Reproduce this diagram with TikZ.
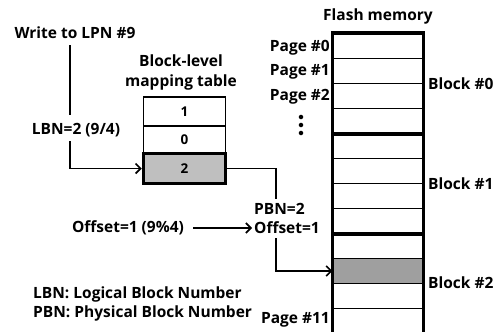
\documentclass[tikz,border=0pt]{standalone}
\usepackage{fontspec}
\setmainfont{Open Sans}
\usetikzlibrary{arrows.meta}
\begin{document}
\begin{tikzpicture}[x=1pt,y=-1pt,
  txt/.style={font=\fontsize{15.5}{20}\selectfont\bfseries, inner sep=1pt},
  conn/.style={line width=1.6pt},
  arr/.style={conn,-{Straight Barb[length=5pt,width=10pt,line width=1.6pt]}},
  cell/.style={draw, line width=1.3pt, minimum width=82pt, inner sep=0pt, font=\fontsize{13.5}{15}\selectfont\bfseries},
  page/.style={draw, line width=1.3pt, minimum width=90pt, minimum height=25pt, inner sep=0pt},
  thick line/.style={line width=3.5pt}
]
\useasboundingbox (0,0) rectangle (504,332);

% flash memory
\foreach \i/\f in {0/white,1/white,2/white,3/white,4/white,5/white,6/white,7/white,8/white,9/gray!75,10/white,11/white}
  \node[page, fill=\f] (p\i) at (378,{46+25*\i}) {};
\draw[thick line, line join=miter] (p11.south west) -- (p0.north west) -- (p0.north east) -- (p11.south east);
\draw[thick line] (p3.south west) -- (p3.south east);
\draw[thick line] (p7.south west) -- (p7.south east);

\node[txt] (fm) at (378,16) {Flash memory};
\node[txt, anchor=east] (l0) at (331,48) {Page \#0};
\node[txt, anchor=east] (l1) at (331,72) {Page \#1};
\node[txt, anchor=east] (l2) at (331,97) {Page \#2};
\node[txt, anchor=east] (l11) at (331,320) {Page \#11};
\node[circle, fill, inner sep=1.6pt] (d1) at (301,117) {};
\node[circle, fill, inner sep=1.6pt] (d2) at (301,125) {};
\node[circle, fill, inner sep=1.6pt] (d3) at (301,133) {};
\node[txt, anchor=west] (b0) at (427,83.5) {Block \#0};
\node[txt, anchor=west] (b1) at (427,183.5) {Block \#1};
\node[txt, anchor=west] (b2) at (427,283) {Block \#2};

% mapping table
\node[txt, align=center] (tt) at (181,72) {Block-level\\mapping table};
\node[cell, minimum height=29pt] (t1) at (184.5,111.5) {1};
\node[cell, minimum height=27pt] (t0) at (184.5,139.5) {0};
\node[cell, minimum height=30pt, fill=gray!50, line width=3.5pt] (t2) at (184.5,168.5) {2};

% left side
\node[txt] (w) at (75,33) {Write to LPN \#9};
\node[txt] (lbn) at (76,130) {LBN=2 (9/4)};
\node[txt] (off) at (128,228) {Offset=1 (9\%4)};
\node[txt, anchor=west] (pbn) at (253,209) {PBN=2};
\node[txt, anchor=west] (off1) at (253,228) {Offset=1};

\node[txt, anchor=west] (lg1) at (32,294) {LBN: Logical Block Number};
\node[txt, anchor=west] (lg2) at (32,313) {PBN: Physical Block Number};

% connectors
\draw[conn, shorten <=5pt, shorten >=7pt] ([xshift=-5pt]w.south) -- ([xshift=-6pt]lbn.north);
\draw[arr, shorten <=3pt] ([xshift=-6pt]lbn.south) |- (t2.west);
\draw[conn, shorten >=3pt] (t2.east) -| ([xshift=23pt]pbn.north west);
\draw[arr, shorten <=8pt, shorten >=1pt] (off.east) -- (off1.west);
\draw[arr, shorten <=3pt] ([xshift=23pt]off1.south west) |- (p9.west);
\end{tikzpicture}
\end{document}
